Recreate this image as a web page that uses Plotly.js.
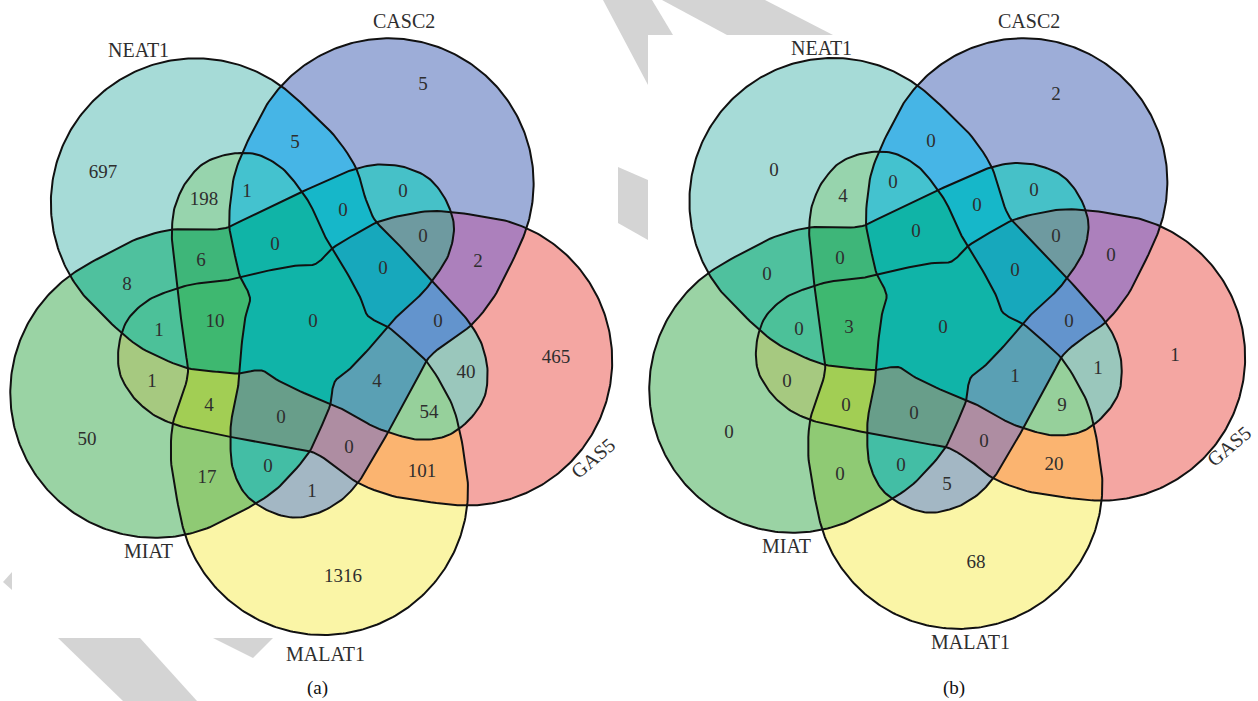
<!DOCTYPE html>
<html>
<head>
<meta charset="utf-8">
<script src="https://cdn.plot.ly/plotly-3.0.1.min.js"></script>
<style>
  html, body { margin: 0; padding: 0; background: #ffffff; }
  #chart { width: 1258px; height: 701px; }
</style>
</head>
<body>
<div id="chart"></div>
<script>
// ---- data: five lncRNA sets and the count in every region of the Venn diagram ----
const sets = ['NEAT1', 'CASC2', 'GAS5', 'MALAT1', 'MIAT'];

const regions = [
  'NEAT1', 'CASC2', 'GAS5', 'MALAT1', 'MIAT',
  'NEAT1&CASC2', 'CASC2&GAS5', 'GAS5&MALAT1', 'MALAT1&MIAT', 'NEAT1&MIAT',
  'NEAT1&MALAT1', 'GAS5&MIAT', 'CASC2&MALAT1', 'NEAT1&GAS5', 'CASC2&MIAT',
  'NEAT1&CASC2&MALAT1', 'NEAT1&GAS5&MIAT', 'CASC2&MALAT1&MIAT', 'NEAT1&GAS5&MALAT1', 'CASC2&GAS5&MIAT',
  'NEAT1&CASC2&MIAT', 'NEAT1&MALAT1&MIAT', 'GAS5&MALAT1&MIAT', 'CASC2&GAS5&MALAT1', 'NEAT1&CASC2&GAS5',
  'NEAT1&CASC2&MALAT1&MIAT', 'NEAT1&GAS5&MALAT1&MIAT', 'CASC2&GAS5&MALAT1&MIAT', 'NEAT1&CASC2&GAS5&MALAT1', 'NEAT1&CASC2&GAS5&MIAT',
  'NEAT1&CASC2&GAS5&MALAT1&MIAT'
];

const countsA = [697, 5, 465, 1316, 50,
                 5, 2, 101, 17, 8,
                 198, 1, 1, 40, 0,
                 1, 1, 0, 54, 0,
                 0, 6, 4, 0, 0,
                 0, 10, 0, 4, 0,
                 0];

const countsB = [0, 2, 1, 68, 0,
                 0, 0, 20, 0, 0,
                 4, 0, 5, 1, 0,
                 0, 0, 0, 9, 0,
                 0, 0, 0, 0, 0,
                 0, 3, 0, 1, 0,
                 0];

const panelCaptions = ['(a)', '(b)'];

// ---- styling ----
const regionColors = [
  '#a6dbd7', '#9dadd8', '#f4a6a2', '#faf5a6', '#9ad3a4',
  '#46b5e6', '#ac80bc', '#fbb470', '#8fca74', '#4fc19e',
  '#97d4ad', '#a6c980', '#a3b7c4', '#9ac7bc', '#46c1c8',
  '#44c2cf', '#4cc199', '#43bea5', '#96d09b', '#6e9aa0',
  '#16b7c9', '#3eb679', '#a2ce54', '#ae8da2', '#6394cd',
  '#10b4a7', '#3eb870', '#689e8a', '#5aa0b4', '#17a8bc',
  '#10b4a8'
];
const FONT = 'Liberation Serif, "Times New Roman", serif';
const TEXT_COLOR = '#2e2e2e';

// ---- layout geometry (pixel units of the page) ----
// One set outline (drawn for MALAT1): a round outer lobe plus an arm that reaches
// across the middle. The other four sets are the same outline turned about the centre.
const shapeCenter = [306, 326];
const lobe = { center: [323, 490], r: 145, fromDeg: -12, toDeg: 172, stepDeg: 6 };
const armRight = [
  [240,153],[255,154],[268,159],[283,169],[293,180],[302,192],[310,204],[317,219],[323,233],
  [332,248],[347,273],[360,297],[368,316],[388,327],[408,344],[427,362],[443,387],[453,407],
  [460,432]
];
const armLeft = [
  [175,488],[171,460],[173,423],[182,397],[188,372],[186,355],
  [183,335],[180,310],[177,287],[174,260],[172,240],[172,227],[174,210],[178,198],[183,187],
  [190,177],[199,167],[210,160],[225,155]
];
const setTurn = { NEAT1: -144, CASC2: 144, GAS5: 72, MALAT1: 0, MIAT: -72 };

const panels = [
  { center: [306, 326], scale: 1.0, counts: countsA,
    countPos: [[103,173],[423,85],[556,358],[343,577],[87,440],
               [295,143],[478,262],[422,472],[207,478],[127,285],
               [204,200],[152,382],[312,492],[466,373],[403,192],
               [247,192],[159,331],[268,467],[429,413],[423,237],
               [343,211],[201,261],[209,406],[349,448],[438,322],
               [275,245],[215,322],[281,418],[377,382],[383,269],
               [313,322]],
    setLabelPos: { NEAT1: [138,50], CASC2: [404,21], GAS5: [593,458], MALAT1: [325,654], MIAT: [148,551] },
    captionPos: [317, 688] },
  { center: [942, 323], scale: 0.99, counts: countsB,
    countPos: [[774,171],[1056,95],[1175,356],[976,563],[729,433],
               [931,142],[1111,256],[1054,465],[840,475],[767,275],
               [843,197],[787,382],[947,485],[1098,369],[1034,191],
               [893,183],[799,330],[901,466],[1062,406],[1056,237],
               [977,206],[840,259],[846,406],[984,442],[1069,322],
               [916,232],[849,328],[914,414],[1015,377],[1015,271],
               [943,328]],
    setLabelPos: { NEAT1: [821,48], CASC2: [1029,21], GAS5: [1229,446], MALAT1: [970,642], MIAT: [786,546] },
    captionPos: [954, 688] }
];

// light grey publisher marks in the page background
const backdropMarks = [
  [[603,0],[652,0],[673,35],[648,35],[648,85]],
  [[662,0],[765,0],[833,35],[727,35]],
  [[618,167],[648,180],[648,240],[618,223]],
  [[12,572],[3,582],[12,590]],
  [[58,638],[140,638],[197,701],[123,701]],
  [[213,638],[273,638],[253,658]]
];

// ---- helpers ----
function maskOf(name) {
  return name.split('&').reduce((m, s) => m | (1 << sets.indexOf(s)), 0);
}

function lobeArc() {
  const pts = [];
  for (let a = lobe.fromDeg; a <= lobe.toDeg + 1e-9; a += lobe.stepDeg) {
    const t = a * Math.PI / 180;
    pts.push([lobe.center[0] + lobe.r * Math.cos(t), lobe.center[1] + lobe.r * Math.sin(t)]);
  }
  return pts;
}

// centripetal Catmull-Rom through a closed ring of points
function smoothRing(pts, seg) {
  const n = pts.length, out = [];
  const d = (a, b) => Math.max(1e-6, Math.sqrt(Math.hypot(b[0] - a[0], b[1] - a[1])));
  const mix = (a, b, wa, wb) => [a[0] * wa + b[0] * wb, a[1] * wa + b[1] * wb];
  for (let i = 0; i < n; i++) {
    const p0 = pts[(i - 1 + n) % n], p1 = pts[i], p2 = pts[(i + 1) % n], p3 = pts[(i + 2) % n];
    const t0 = 0, t1 = t0 + d(p0, p1), t2 = t1 + d(p1, p2), t3 = t2 + d(p2, p3);
    for (let s = 0; s < seg; s++) {
      const t = t1 + (t2 - t1) * s / seg;
      const A1 = mix(p0, p1, (t1 - t) / (t1 - t0), (t - t0) / (t1 - t0));
      const A2 = mix(p1, p2, (t2 - t) / (t2 - t1), (t - t1) / (t2 - t1));
      const A3 = mix(p2, p3, (t3 - t) / (t3 - t2), (t - t2) / (t3 - t2));
      const B1 = mix(A1, A2, (t2 - t) / (t2 - t0), (t - t0) / (t2 - t0));
      const B2 = mix(A2, A3, (t3 - t) / (t3 - t1), (t - t1) / (t3 - t1));
      out.push(mix(B1, B2, (t2 - t) / (t2 - t1), (t - t1) / (t2 - t1)));
    }
  }
  return out;
}

const smoothOutline = smoothRing(armRight.concat(lobeArc(), armLeft), 6);

function placeOutline(setName, center, scale) {
  const a = setTurn[setName] * Math.PI / 180, c = Math.cos(a), s = Math.sin(a);
  return smoothOutline.map(([x, y]) => {
    const rx = (x - shapeCenter[0]) * scale, ry = (y - shapeCenter[1]) * scale;
    return [center[0] + rx * c + ry * s, center[1] - rx * s + ry * c];
  });
}

// membership mask of every pixel of a panel, row by row (even-odd scanline)
function membershipGrid(polys) {
  let minX = Infinity, maxX = -Infinity, minY = Infinity, maxY = -Infinity;
  polys.forEach(p => p.forEach(([x, y]) => {
    minX = Math.min(minX, x); maxX = Math.max(maxX, x);
    minY = Math.min(minY, y); maxY = Math.max(maxY, y);
  }));
  minX = Math.floor(minX) - 1; minY = Math.floor(minY) - 1;
  maxX = Math.ceil(maxX) + 1; maxY = Math.ceil(maxY) + 1;
  const W = maxX - minX, H = maxY - minY, z = [];
  for (let j = 0; j < H; j++) {
    const yc = minY + j + 0.5;
    const row = new Array(W).fill(0);
    polys.forEach((poly, k) => {
      const xs = [];
      for (let i = 0; i < poly.length; i++) {
        const a = poly[i], b = poly[(i + 1) % poly.length];
        if ((a[1] <= yc) !== (b[1] <= yc)) {
          xs.push(a[0] + (yc - a[1]) * (b[0] - a[0]) / (b[1] - a[1]));
        }
      }
      xs.sort((p, q) => p - q);
      for (let i = 0; i + 1 < xs.length; i += 2) {
        const c0 = Math.max(0, Math.ceil(xs[i] - minX - 0.5));
        const c1 = Math.min(W - 1, Math.floor(xs[i + 1] - minX - 0.5));
        for (let c = c0; c <= c1; c++) row[c] |= (1 << k);
      }
    });
    z.push(row.map(m => (m ? m : null)));
  }
  return { z, x0: minX + 0.5, y0: minY + 0.5 };
}

// discrete colour scale: value = region mask (1..31)
const colorByMask = {};
regions.forEach((r, i) => { colorByMask[maskOf(r)] = regionColors[i]; });
const colorscale = [];
for (let m = 1; m <= 31; m++) {
  const col = colorByMask[m] || '#cccccc';
  colorscale.push([(m - 1) / 31, col], [m / 31, col]);
}

// ---- traces ----
const traces = [];
const annotations = [];

panels.forEach((panel, pi) => {
  const polys = sets.map(s => placeOutline(s, panel.center, panel.scale));
  const grid = membershipGrid(polys);

  traces.push({
    type: 'heatmap', z: grid.z, x0: grid.x0, dx: 1, y0: grid.y0, dy: 1,
    zmin: 0.5, zmax: 31.5, colorscale: colorscale, zsmooth: false,
    showscale: false, hoverinfo: 'skip'
  });

  polys.forEach((poly, k) => {
    const ring = poly.concat([poly[0]]);
    traces.push({
      type: 'scatter', mode: 'lines', name: sets[k],
      x: ring.map(p => p[0]), y: ring.map(p => p[1]),
      line: { color: '#111111', width: 2 },
      hoverinfo: 'skip', showlegend: false
    });
  });

  traces.push({
    type: 'scatter', mode: 'text',
    x: panel.countPos.map(p => p[0]), y: panel.countPos.map(p => p[1]),
    text: panel.counts.map(String),
    textposition: 'middle center',
    textfont: { family: FONT, size: 19, color: TEXT_COLOR },
    hovertext: regions.map((r, i) => r + ': ' + panel.counts[i]),
    hoverinfo: 'text', showlegend: false
  });

  sets.forEach(s => {
    const [x, y] = panel.setLabelPos[s];
    annotations.push({
      x: x, y: y, xref: 'x', yref: 'y', text: s, showarrow: false,
      textangle: s === 'GAS5' ? -40 : 0,
      font: { family: FONT, size: 20, color: TEXT_COLOR },
      xanchor: 'center', yanchor: 'middle'
    });
  });

  annotations.push({
    x: panel.captionPos[0], y: panel.captionPos[1], xref: 'x', yref: 'y',
    text: panelCaptions[pi], showarrow: false,
    font: { family: FONT, size: 19, color: '#111111' },
    xanchor: 'center', yanchor: 'middle'
  });
});

const shapes = backdropMarks.map(poly => ({
  type: 'path', xref: 'x', yref: 'y', layer: 'below',
  path: 'M' + poly.map(p => p[0] + ',' + p[1]).join(' L') + ' Z',
  fillcolor: '#d4d4d4', line: { width: 0 }
}));

const layout = {
  width: 1258, height: 701,
  margin: { l: 0, r: 0, t: 0, b: 0, pad: 0 },
  paper_bgcolor: '#ffffff', plot_bgcolor: '#ffffff',
  xaxis: { range: [0, 1258], visible: false, fixedrange: true },
  yaxis: { range: [701, 0], visible: false, fixedrange: true },
  showlegend: false,
  shapes: shapes,
  annotations: annotations
};

Plotly.newPlot('chart', traces, layout, { staticPlot: true, displayModeBar: false });
</script>
</body>
</html>
